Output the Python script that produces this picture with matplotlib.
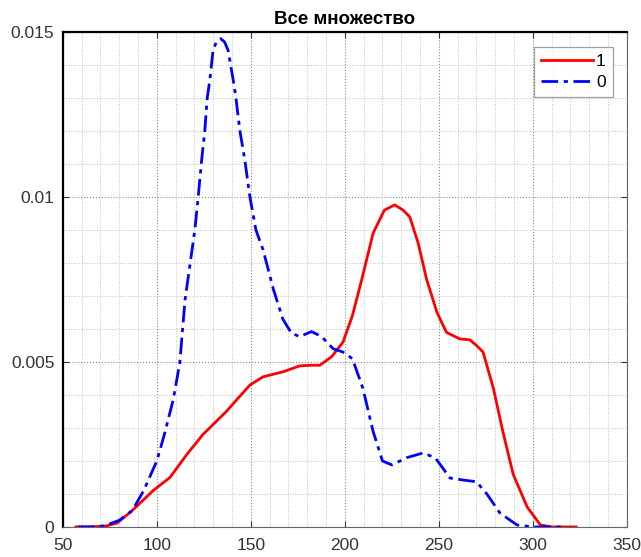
import numpy as np
import matplotlib
matplotlib.use("Agg")
import matplotlib.pyplot as plt
from matplotlib.ticker import MultipleLocator

matplotlib.rcParams.update({
    "font.family": ["Liberation Sans", "DejaVu Sans"],
    "font.size": 12,
})

# class "1" density
x1 = [57, 65, 73, 79, 87, 98, 107, 116, 124.5, 137, 142.4, 149.5, 156.5, 167, 176,
      181, 186.7, 193, 199, 204, 209, 215, 221, 226.5, 231, 234.5, 239, 243.5, 249,
      254, 261, 266.5, 270, 273.5, 279, 284, 289.5, 297, 304, 310, 323]
y1 = [0, 0, 0.00003, 0.00012, 0.0005, 0.0011, 0.0015, 0.0022, 0.0028, 0.0035, 0.00385,
      0.0043, 0.00455, 0.0047, 0.00488, 0.0049, 0.0049, 0.00516, 0.0056, 0.0064, 0.0075,
      0.0089, 0.0096, 0.00976, 0.0096, 0.0094, 0.0086, 0.0075, 0.0065, 0.0059, 0.0057,
      0.00567, 0.0055, 0.0053, 0.0042, 0.0029, 0.0016, 0.0006, 0.00006, 0, 0]

# class "0" density
x0 = [58, 65, 72, 80, 87, 93, 100, 104, 108.7, 112.2, 115, 117.5, 120.2, 122, 123.8,
      125.5, 126.8, 128.2, 129.9, 131.7, 133.9, 136, 137.9, 140.6, 142, 144.1, 146.8,
      149.5, 152.7, 156.5, 162, 167, 171.6, 176, 182.3, 187.6, 193.8, 199, 204, 209.6,
      215, 220, 225, 233, 241.5, 248, 256, 263, 270, 275.5, 282.5, 291.5, 300, 317]
y0 = [0, 0, 0.00003, 0.0002, 0.0005, 0.0011, 0.002, 0.0028, 0.00385, 0.00497, 0.00688,
      0.0079, 0.0090, 0.0100, 0.0111, 0.0120, 0.0130, 0.01355, 0.01445, 0.0147, 0.0148,
      0.0147, 0.01445, 0.01355, 0.01304, 0.01203, 0.01112, 0.0100, 0.0090, 0.0084,
      0.0072, 0.0063, 0.00587, 0.00577, 0.00592, 0.00577, 0.0054, 0.0053, 0.0051,
      0.0042, 0.0029, 0.002, 0.00188, 0.0021, 0.00224, 0.0021, 0.00148, 0.00142,
      0.00137, 0.001, 0.00042, 0.00006, 0, 0]

xticks = [50, 100, 150, 200, 250, 300, 350]
yticks = [0, 0.005, 0.01, 0.015]
yticklabels = ["0", "0.005", "0.01", "0.015"]

fig = plt.figure(figsize=(6.41, 5.57), dpi=100)
ax = fig.add_axes([0.098, 0.054, 0.88, 0.8885])

ax.plot(x1, y1, color="red", linewidth=2.0, label="1", zorder=3)
ax.plot(x0, y0, color="blue", linewidth=2.0, linestyle=(0, (6, 2, 1.5, 2)),
        label="0", zorder=3)

ax.set_xlim(50, 350)
ax.set_ylim(0, 0.015)
ax.set_xticks(xticks)
ax.set_yticks(yticks)
ax.set_yticklabels(yticklabels)
ax.xaxis.set_minor_locator(MultipleLocator(10))
ax.yaxis.set_minor_locator(MultipleLocator(0.001))
ax.tick_params(which="both", direction="in", top=True, right=True,
               labelsize=12.5, colors="#333333")
ax.tick_params(axis="x", which="major", pad=8)
ax.tick_params(axis="y", which="major", pad=6)
ax.tick_params(which="major", length=4)
ax.tick_params(which="minor", length=0)

ax.grid(which="major", linestyle=":", color="#888888", linewidth=0.8)
ax.grid(which="minor", linestyle=":", color="#c0c0c0", linewidth=0.7)
ax.set_axisbelow(True)

ax.spines["left"].set_linewidth(1.6)
ax.spines["top"].set_linewidth(1.6)
ax.spines["right"].set_color("#666666")
ax.spines["bottom"].set_color("#666666")

ax.set_title("Все множество", fontweight="bold", fontsize=13.5, pad=6)

leg = ax.legend(loc="upper right", bbox_to_anchor=(0.975, 0.97), borderaxespad=0,
                fancybox=False, edgecolor="#888888", handlelength=3.0,
                handletextpad=0.15, borderpad=0.4, labelspacing=0.35, fontsize=12.5)
leg.get_frame().set_linewidth(0.9)

fig.savefig("out.png", dpi=100, facecolor="white")
